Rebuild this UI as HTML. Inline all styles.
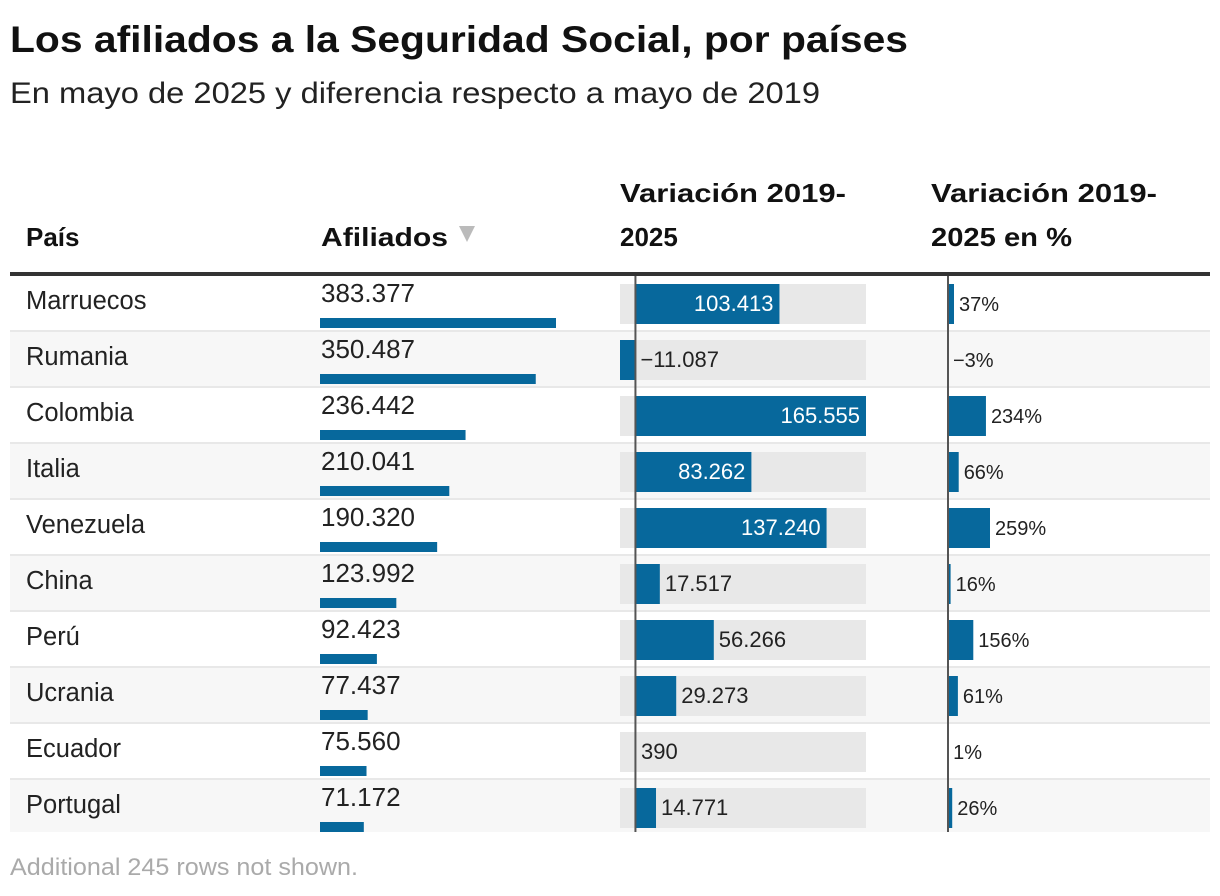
<!DOCTYPE html>
<html><head><meta charset="utf-8"><style>
html,body{margin:0;padding:0;background:#fff;}
svg{display:block;font-family:"Liberation Sans",sans-serif;}
</style></head><body>
<svg id="chart" width="1220" height="896" viewBox="0 0 1220 896">
<text x="10" y="52" font-size="37" font-weight="bold" fill="#111" textLength="898" lengthAdjust="spacingAndGlyphs">Los afiliados a la Seguridad Social, por países</text>
<text x="10" y="103" font-size="30" fill="#222" textLength="810" lengthAdjust="spacingAndGlyphs">En mayo de 2025 y diferencia respecto a mayo de 2019</text>
<text x="26" y="246" font-size="26" font-weight="bold" fill="#111">País</text>
<text x="321" y="246" font-size="26" font-weight="bold" fill="#111" textLength="127" lengthAdjust="spacingAndGlyphs">Afiliados</text>
<path d="M459 226 L475 226 L467 242 Z" fill="#bbb"/>
<text font-size="26" font-weight="bold" fill="#111"><tspan x="620" y="202" textLength="226" lengthAdjust="spacingAndGlyphs">Variación 2019-</tspan><tspan x="620" y="246">2025</tspan></text>
<text font-size="26" font-weight="bold" fill="#111"><tspan x="931" y="202" textLength="226" lengthAdjust="spacingAndGlyphs">Variación 2019-</tspan><tspan x="931" y="246" textLength="141" lengthAdjust="spacingAndGlyphs">2025 en %</tspan></text>
<g id="rows"></g>
<rect x="10" y="272" width="1200" height="4" fill="#333"/>
<text x="10" y="875" font-size="24" fill="#aaa" textLength="348" lengthAdjust="spacingAndGlyphs">Additional 245 rows not shown.</text>
</svg>
<script>
const countries = ["Marruecos","Rumania","Colombia","Italia","Venezuela","China","Perú","Ucrania","Ecuador","Portugal"];
const afiliados = [383377,350487,236442,210041,190320,123992,92423,77437,75560,71172];
const variacion = [103413,-11087,165555,83262,137240,17517,56266,29273,390,14771];
const variacionPct = [37,-3,234,66,259,16,156,61,1,26];

const NS="http://www.w3.org/2000/svg";
const g=document.getElementById('rows');
const fmt=n=>(n<0?'\u2212':'')+Math.abs(n).toString().replace(/\B(?=(\d{3})+(?!\d))/g,'.');
const top0=276,rowH=56;
const afX=v=>320+v*236/383377;
const vMin=Math.min(0,...variacion),vMax=Math.max(...variacion);
const vX=v=>620+(v-vMin)*(866-620)/(vMax-vMin);
const pX=v=>948+v*42/259;
function el(tag,attrs,txt){const e=document.createElementNS(NS,tag);for(const k in attrs)e.setAttribute(k,attrs[k]);if(txt!==undefined)e.textContent=txt;g.appendChild(e);return e;}
countries.forEach((c,i)=>{
  const y=top0+i*rowH;
  const last=i===countries.length-1;
  const bg=el('rect',{x:10,y:y,width:1200,height:last?rowH-4:rowH,fill:i%2?'#f7f7f7':'#fff'});
  
  
  if(!last){const s=el('rect',{x:10,y:y+rowH-2,width:1200,height:2,fill:'#e8e8e8'});
    
    }
  const t=el('text',{x:26,y:y+33,'font-size':25.5,fill:'#222'},c);
  
  
  const at=el('text',{x:321,y:y+26,'font-size':26,fill:'#222'},fmt(afiliados[i]));
  
  
  const ab=el('rect',{x:320,y:y+42,width:afX(afiliados[i])-320,height:10,fill:'#07689c'});
  
  
  const vb=el('rect',{x:620,y:y+8,width:246,height:40,fill:'#e8e8e8'});
  
  
  const v=variacion[i],x0=vX(0),x1=vX(v);
  const bar=el('rect',{x:Math.min(x0,x1),y:y+8,width:Math.abs(x1-x0),height:40,fill:'#07689c'});
  
  
  const inside=(x1-x0)>110;
  const vt=el('text',{x:inside?x1-6:Math.max(x0,x1)+5,y:y+35,'font-size':22,fill:inside?'#fff':'#222','text-anchor':inside?'end':'start'},fmt(v));
  
  
  const p=variacionPct[i],p0=pX(0),p1=pX(p);
  const pb=el('rect',{x:Math.min(p0,p1),y:y+8,width:Math.max(1,Math.abs(p1-p0)),height:40,fill:'#07689c'});
  
  
  const pt=el('text',{x:Math.max(p0,p1)+5,y:y+35,'font-size':20,fill:'#222'},fmt(p)+'%');
  
  
});
const bottom=top0+rowH*countries.length-4;
const z1=el('rect',{x:vX(0)-1,y:top0,width:2,height:bottom-top0,fill:'#555'});


const z2=el('rect',{x:pX(0)-1,y:top0,width:2,height:bottom-top0,fill:'#555'});


</script>
</body></html>
